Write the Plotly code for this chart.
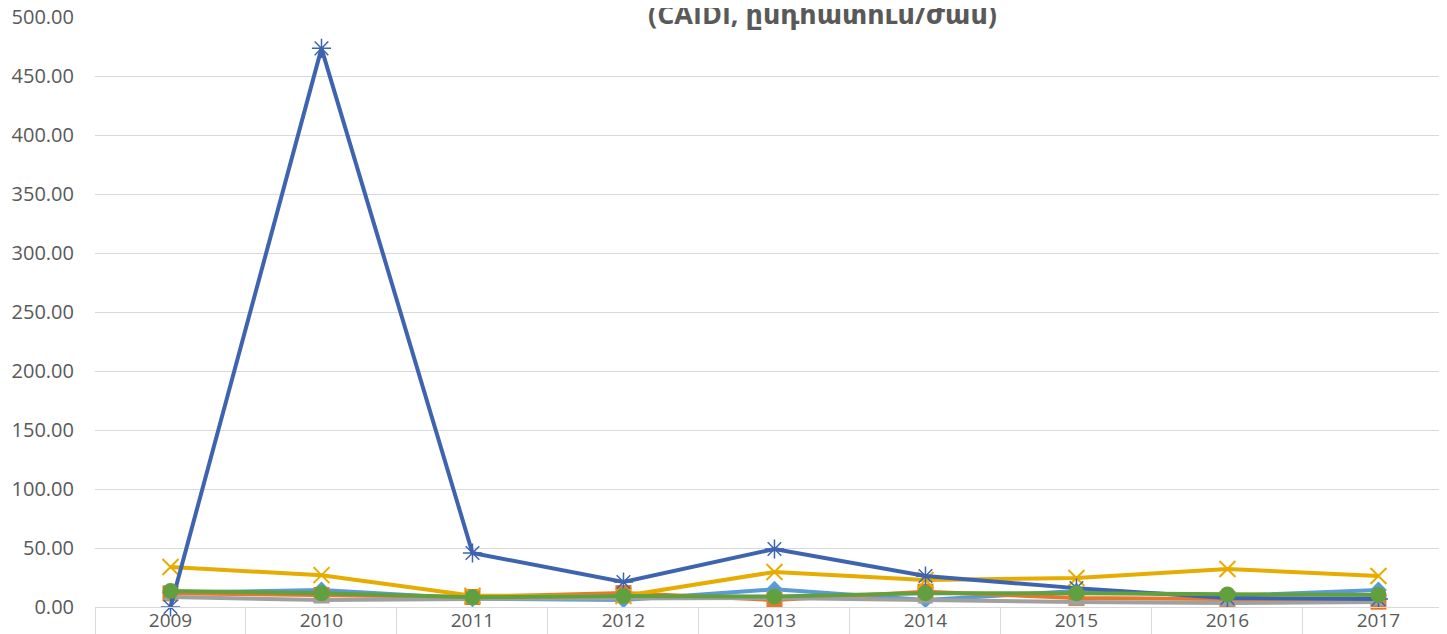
import plotly.graph_objects as go

years = ["2009", "2010", "2011", "2012", "2013", "2014", "2015", "2016", "2017"]

s_lightblue = [12.0, 14.4, 7.0, 6.0, 15.0, 6.0, 13.5, 9.3, 14.4]
s_orange = [11.6, 10.2, 8.5, 11.8, 5.9, 13.0, 7.6, 6.8, 4.5]
s_gray = [8.5, 5.9, 6.8, 7.0, 7.6, 5.9, 4.2, 3.4, 4.2]
s_yellow = [33.9, 27.0, 9.5, 9.3, 29.7, 22.9, 24.6, 32.2, 26.3]
s_darkblue = [0.0, 473.7, 45.8, 21.2, 49.2, 26.3, 16.0, 7.6, 6.8]
s_green = [13.5, 11.6, 8.2, 9.3, 8.8, 11.6, 11.6, 10.7, 10.2]

title_text = "(CAIDI, ընդհատում/ժամ)"

series = [
    (s_lightblue, "#5B9BD5", "diamond", 13, None),
    (s_orange, "#E8772E", "square", 16, None),
    (s_gray, "#A0A0A0", "triangle-up", 14, None),
    (s_yellow, "#E6AC00", "x-thin-open", 16, 2),
    (s_darkblue, "#3E64AF", "asterisk-open", 16, 1.5),
    (s_green, "#62A03F", "circle", 16, None),
]

fig = go.Figure()
for vals, col, sym, size, lw in series:
    marker = dict(symbol=sym, size=size, color=col)
    marker["line"] = dict(color=col, width=lw if lw is not None else 0)
    fig.add_trace(go.Scatter(
        x=years, y=vals, mode="lines+markers",
        line=dict(color=col, width=4),
        marker=marker, cliponaxis=False, showlegend=False,
    ))

# page body has an 8px default margin: compensate
fig.update_layout(
    width=1439, height=626,
    margin=dict(l=87, r=0, t=9, b=27),
    plot_bgcolor="white", paper_bgcolor="white",
    font=dict(family="Open Sans, DejaVu Sans", size=18, color="#595959"),
    xaxis=dict(
        type="category", range=[-0.5, 8.454], automargin=False,
        showgrid=False, showline=True, linecolor="#D9D9D9", linewidth=1,
        ticks="outside", tickson="boundaries", ticklen=30, tickcolor="#D9D9D9",
        tickwidth=1, ticklabelstandoff=-4,
        tickfont=dict(size=19, color="#595959"),
    ),
    yaxis=dict(
        range=[0, 500.3], dtick=50, tickformat=".2f", automargin=False,
        showgrid=True, gridcolor="#D9D9D9", gridwidth=1,
        zeroline=False, showline=False, ticks="",
        ticklabelstandoff=20, ticklabeloverflow="allow",
        tickfont=dict(size=20, color="#595959"),
    ),
    annotations=[dict(
        text="<b>" + title_text + "</b>", xref="paper", yref="paper",
        x=(822 - 95) / 1352, y=1 + (9 - 6) / 590, xanchor="center", yanchor="middle",
        showarrow=False, bgcolor="white",
        font=dict(family="Open Sans, DejaVu Sans", size=27, color="#595959"),
    )],
)

fig.write_html("out.html")
